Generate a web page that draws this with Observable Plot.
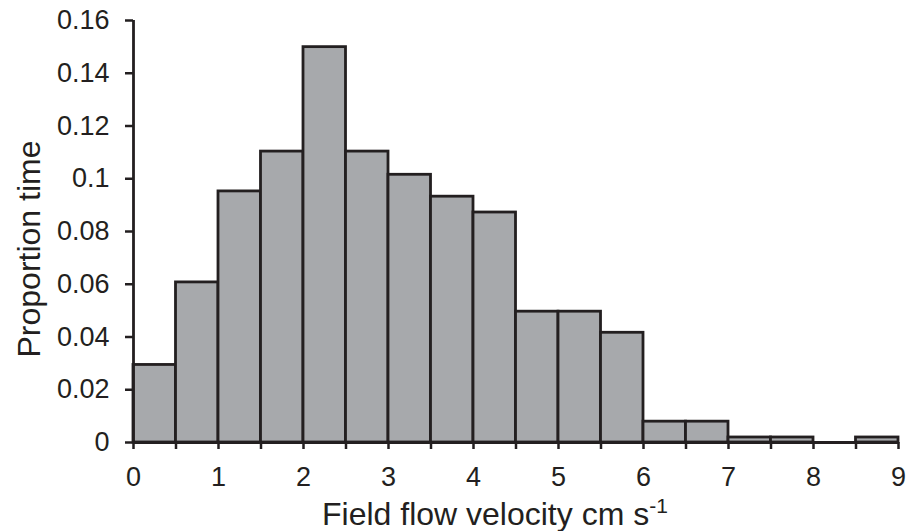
<!DOCTYPE html>
<html>
<head>
<meta charset="utf-8">
<script src="https://cdn.jsdelivr.net/npm/d3@7"></script>
<script src="https://cdn.jsdelivr.net/npm/@observablehq/plot@0.6"></script>
<style>
  html, body { margin: 0; padding: 0; background: #fff; }
  #chart svg { display: block; font-family: "Liberation Sans", Arial, sans-serif; }
</style>
</head>
<body>
<div id="chart"></div>
<script>
// Bin edges (cm s-1) and proportion of time in each bin
const binStart = [0, 0.5, 1, 1.5, 2, 2.5, 3, 3.5, 4, 4.5, 5, 5.5, 6, 6.5, 7, 7.5, 8, 8.5];
const binEnd   = [0.5, 1, 1.5, 2, 2.5, 3, 3.5, 4, 4.5, 5, 5.5, 6, 6.5, 7, 7.5, 8, 8.5, 9];
const proportion = [0.0294, 0.0607, 0.0952, 0.1103, 0.1499, 0.1103, 0.1015, 0.0932, 0.0872,
                    0.0496, 0.0496, 0.0416, 0.0079, 0.0079, 0.0019, 0.0019, 0, 0.0019];
const xTicks = [0, 0.5, 1, 1.5, 2, 2.5, 3, 3.5, 4, 4.5, 5, 5.5, 6, 6.5, 7, 7.5, 8, 8.5, 9];
const yTicks = [0, 0.02, 0.04, 0.06, 0.08, 0.1, 0.12, 0.14, 0.16];
const xTitle = "Field flow velocity cm s";
const xTitleSup = "-1";
const yTitle = "Proportion time";

const bins = binStart.map((s, i) => ({x1: s, x2: binEnd[i], y: proportion[i]}));

const ink = "#231f20";

const chart = Plot.plot({
  width: 911,
  height: 531,
  marginLeft: 133,
  marginRight: 13,
  marginTop: 20,
  marginBottom: 89,
  style: {fontFamily: '"Liberation Sans", Arial, sans-serif', color: ink, background: "#fff"},
  x: {domain: [0, 9]},
  y: {domain: [0, 0.16]},
  marks: [
    Plot.rectY(bins.filter(d => d.y > 0), {x1: "x1", x2: "x2", y: "y", fill: "#a7a9ac", stroke: ink, strokeWidth: 2.8, strokeLinejoin: "miter"}),
    Plot.axisX({ticks: xTicks, tickSize: 7, tickPadding: 17, strokeWidth: 2.5,
      tickFormat: d => Number.isInteger(d) ? String(d) : "", fontSize: 27, label: null, stroke: ink, fill: ink}),
    Plot.axisY({ticks: yTicks, tickSize: 8, tickPadding: 16, strokeWidth: 2.5,
      tickFormat: d => String(+d.toFixed(2)), fontSize: 27, label: null, stroke: ink, fill: ink}),
    Plot.ruleY([0], {stroke: ink, strokeWidth: 2.8}),
    Plot.ruleX([0], {stroke: ink, strokeWidth: 2.8})
  ]
});

document.getElementById("chart").appendChild(chart);

const svg = d3.select(chart);
const xt = svg.append("text")
  .attr("x", 322).attr("y", 525)
  .attr("text-anchor", "start")
  .attr("font-size", 32).attr("fill", ink)
  .attr("font-family", '"Liberation Sans", Arial, sans-serif');
xt.append("tspan").text(xTitle);
xt.append("tspan").attr("font-size", 21).attr("dy", -12).text(xTitleSup);

svg.append("text")
  .attr("transform", "translate(40,249) rotate(-90)")
  .attr("text-anchor", "middle")
  .attr("font-size", 32).attr("fill", ink)
  .attr("font-family", '"Liberation Sans", Arial, sans-serif')
  .text(yTitle);
</script>
</body>
</html>
